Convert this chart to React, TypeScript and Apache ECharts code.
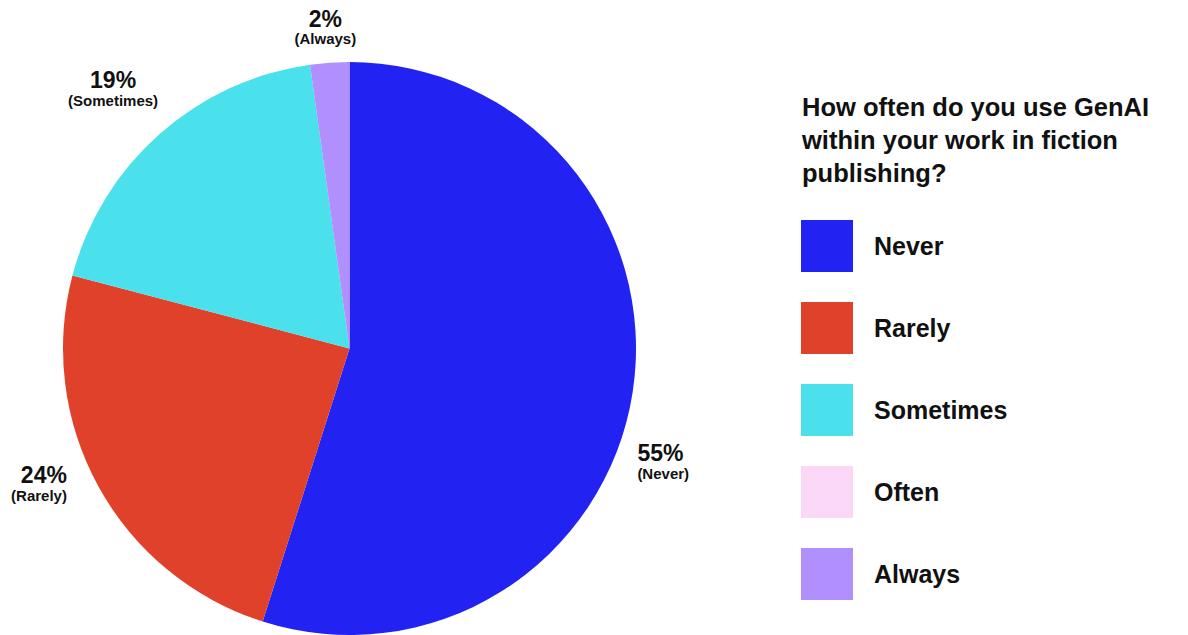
import React, { useEffect, useRef } from "react";
import * as echarts from "echarts";

const categories = ["Never", "Rarely", "Sometimes", "Often", "Always"];
// shares in percent
const values = [54.9, 24.2, 18.7, 0, 2.2];
const colors = ["#2222F2", "#E0412A", "#4AE1EC", "#FBD8F8", "#B18FFC"];
const titleText = "How often do you use GenAI\nwithin your work in fiction\npublishing?";

const FONT = "'Liberation Sans', Arial, sans-serif";
const CX = 349.5;
const CY = 348.5;
const R = 286.5;

// label placement: side alignment and small nudges from the slice mid-angle anchor
const labelAlign = ["left", "right", "center", "center", "center"];
const labelNudge: [number, number][] = [
  [-15, 67],
  [-14, -12],
  [-33, -30],
  [0, 0],
  [-3, -15],
];

const richFor = (align: string) => ({
  p: {
    fontFamily: FONT,
    fontSize: 23,
    fontWeight: "bold",
    lineHeight: 22,
    color: "#111111",
    align,
  },
  c: {
    fontFamily: FONT,
    fontSize: 15,
    fontWeight: "bold",
    lineHeight: 18,
    color: "#111111",
    align,
  },
});

export default function App() {
  const ref = useRef<HTMLDivElement>(null);
  useEffect(() => {
    if (!ref.current) return;
    const chart = echarts.init(ref.current, null, { renderer: "svg" });
    const total = values.reduce((a, b) => a + b, 0);
    const mids: number[] = [];
    let acc = 0;
    values.forEach((v) => {
      mids.push(((acc + v / 2) / total) * Math.PI * 2);
      acc += v;
    });
    chart.setOption({
      animation: false,
      backgroundColor: "#ffffff",
      title: {
        text: titleText,
        left: 802,
        top: 90,
        padding: 0,
        textStyle: {
          fontFamily: FONT,
          fontSize: 25.5,
          fontWeight: "bold",
          lineHeight: 33,
          color: "#111111",
        },
      },
      legend: {
        orient: "vertical",
        left: 801,
        top: 220,
        padding: 0,
        itemWidth: 52,
        itemHeight: 52,
        itemGap: 30,
        icon: "rect",
        selectedMode: false,
        data: categories,
        textStyle: {
          fontFamily: FONT,
          fontSize: 25,
          fontWeight: "bold",
          color: "#111111",
          padding: [0, 0, 0, 16],
        },
      },
      series: [
        {
          type: "pie",
          center: [CX, CY],
          radius: R,
          startAngle: 90,
          clockwise: true,
          avoidLabelOverlap: false,
          emphasis: { disabled: true },
          itemStyle: { borderWidth: 0 },
          labelLine: { show: false },
          label: {
            show: true,
            position: "outside",
            formatter: (p: any) => `{p|${Math.round(p.value)}%}\n{c|(${p.name})}`,
          },
          labelLayout: (params: any) => {
            const i = params.dataIndex;
            const a = mids[i];
            const rr = R + 20;
            return {
              x: CX + rr * Math.sin(a) + labelNudge[i][0],
              y: CY - rr * Math.cos(a) + labelNudge[i][1],
              align: labelAlign[i],
              verticalAlign: "middle",
            };
          },
          data: categories.map((name, i) => ({
            name,
            value: values[i],
            itemStyle: { color: colors[i] },
            label: {
              show: values[i] > 0,
              align: labelAlign[i],
              rich: richFor(labelAlign[i]),
            },
          })),
        },
      ],
    });
    return () => chart.dispose();
  }, []);
  return (
    <div
      ref={ref}
      style={{ position: "fixed", left: 0, top: 0, width: 1188, height: 635 }}
    />
  );
}
